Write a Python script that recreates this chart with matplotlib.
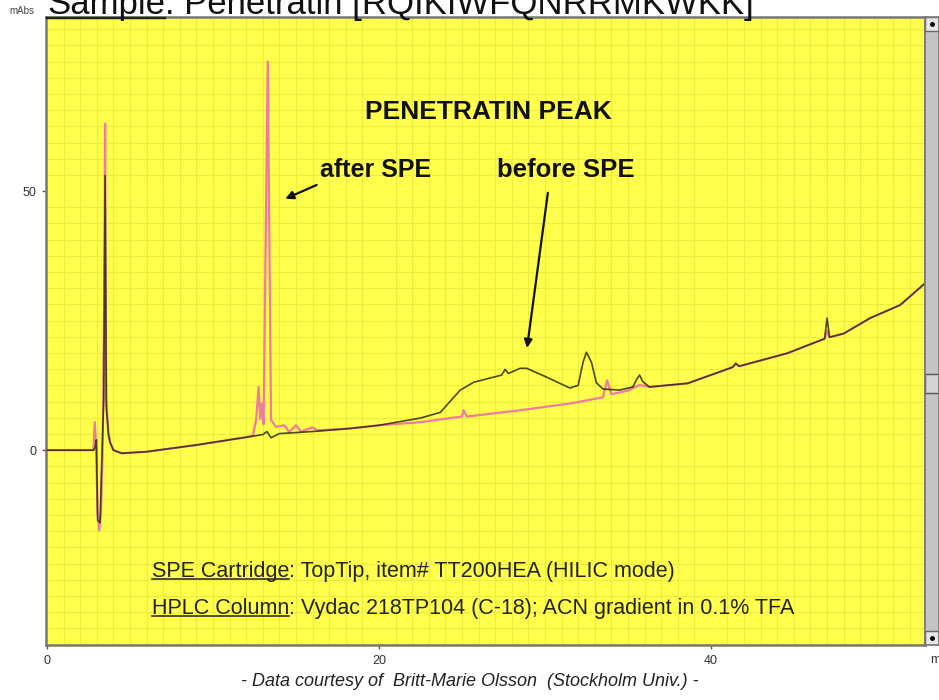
import numpy as np
import matplotlib
matplotlib.use('Agg')
import matplotlib.pyplot as plt
from matplotlib.lines import Line2D
from matplotlib.patches import Rectangle

plt.rcParams['font.family'] = ['Liberation Sans', 'DejaVu Sans']

# retention time (min) / absorbance (mAbs)
before_t = [0, 2.8, 2.9, 2.98, 3.05, 3.2, 3.3, 3.42, 3.5, 3.58, 3.7, 3.8, 4.0, 4.5,
            6, 9, 12, 13.0, 13.25, 13.5, 14, 16, 18.3, 20, 22.5, 23.7, 24.9, 25.7,
            27.4, 27.6, 27.8, 28.5, 28.9, 30.1, 31.5, 32.0, 32.3, 32.5, 32.8, 33.1,
            33.5, 34.5, 35.3, 35.5, 35.7, 35.9, 36.3, 38.6, 41.3, 41.5, 41.7, 44.6,
            46.6, 46.85, 47.0, 47.15, 48, 49.6, 51.4, 52.9]
before_y = [0, 0, 0.5, 2.0, -13.5, -14.0, -2, 10, 53, 8, 3.0, 1.5, 0, -0.6,
            -0.3, 1.0, 2.5, 3.0, 3.6, 2.4, 3.2, 3.6, 4.2, 4.8, 6.2, 7.3, 11.6, 13.1,
            14.5, 15.6, 14.8, 15.8, 15.8, 14.1, 12.0, 12.5, 17.0, 18.9, 17.0, 13.0,
            11.8, 11.6, 12.2, 13.5, 14.5, 13.2, 12.2, 12.9, 16.0, 16.8, 16.2, 18.7,
            21.2, 21.5, 25.5, 21.8, 22.5, 25.5, 28.0, 32.2]

after_t = [0, 2.8, 2.88, 2.95, 3.05, 3.15, 3.25, 3.35, 3.45, 3.5, 3.56, 3.7, 3.8, 4.0,
           4.5, 6, 9, 12, 12.4, 12.6, 12.75, 12.85, 12.95, 13.05, 13.3, 13.5, 13.8,
           14.3, 14.6, 15.0, 15.3, 16.0, 16.3, 18.3, 20, 22.5, 25.0, 25.1, 25.3, 28.5,
           31.5, 33.5, 33.75, 34.0, 35.0, 35.7, 36.3, 38.6, 41.3, 41.5, 41.7, 44.6,
           46.6, 46.85, 47.0, 47.15, 48, 49.6, 51.4, 52.9]
after_y = [0, 0, 5.4, 1.0, -12, -15.5, -12, -1, 30, 63, 10, 3.5, 1.5, 0,
           -0.6, -0.3, 1.0, 2.5, 2.8, 5.8, 12.2, 6.0, 9.0, 5.0, 75, 5.8, 4.5,
           4.8, 3.5, 4.8, 3.6, 4.4, 3.8, 4.2, 4.8, 5.4, 6.5, 7.7, 6.5, 7.7,
           9.0, 10.2, 13.5, 10.8, 11.5, 12.6, 12.2, 12.9, 16.0, 16.6, 16.2, 18.7,
           21.2, 21.5, 23.0, 21.8, 22.5, 25.5, 28.0, 32.2]

x_ticks = [0, 20, 40]
y_ticks = [0, 50]

W, H = 939, 700
fig = plt.figure(figsize=(W / 100, H / 100), dpi=100)
fig.patch.set_facecolor('white')


def fx(px):
    return px / W


def fy(py):
    return 1 - py / H


ax = fig.add_axes([fx(46), fy(645), fx(925) - fx(46), fy(17) - fy(645)])
ax.set_facecolor('#ffff4c')
ax.set_xlim(-0.06, 52.9)
ax.set_ylim(-37.6, 83.6)

ax.set_xticks(np.arange(0, 53, 1), minor=True)
ax.set_yticks(np.arange(-37.5, 84, 50 / 16), minor=True)
ax.grid(which='minor', color='#ecec40', lw=0.8)
ax.set_axisbelow(True)
ax.tick_params(which='minor', length=0)

ax.set_xticks(x_ticks)
ax.set_yticks(y_ticks)
ax.tick_params(which='major', length=3, width=1, color='#555555',
               labelsize=9, labelcolor='#333333', pad=4)
for s in ax.spines.values():
    s.set_color('#777777')
    s.set_linewidth(1.8)

ax.plot(after_t, after_y, color='#f07aa0', lw=1.6, zorder=3)
ax.plot(before_t, before_y, color='#2e2a10', lw=1.2, alpha=0.85, zorder=4)

# annotations
bold = dict(fontweight='bold', color='#111111')
ax.text(26.6, 65.3, 'PENETRATIN PEAK', ha='center', va='center', fontsize=19, **bold)
ax.text(16.45, 54.1, 'after SPE', ha='left', va='center', fontsize=18, **bold)
ax.text(27.1, 54.1, 'before SPE', ha='left', va='center', fontsize=18.5, **bold)
arrow = dict(arrowstyle='-|>', color='#111111', lw=1.6, mutation_scale=12)
ax.annotate('', xy=(14.2, 48.3), xytext=(16.4, 51.4), arrowprops=arrow)
ax.annotate('', xy=(28.9, 19.2), xytext=(30.2, 50.2), arrowprops=arrow)

# scroll bar on the right
sb = fig.add_axes([fx(925), fy(645), fx(939) - fx(925), fy(17) - fy(645)])
sb.set_facecolor('#c4c4c4')
sb.set_xticks([])
sb.set_yticks([])
for s in sb.spines.values():
    s.set_color('#777777')
    s.set_linewidth(1.2)
for y0 in [0.0, 0.977]:
    sb.add_patch(Rectangle((0, y0), 1, 0.023, transform=sb.transAxes,
                           facecolor='#e6e6e6', edgecolor='#666666', lw=1))
    sb.plot([0.5], [y0 + 0.0115], marker='o', ms=2.5, color='black',
            transform=sb.transAxes)
sb.add_patch(Rectangle((0, (645 - 393) / 628), 1, 19 / 628, transform=sb.transAxes,
                       facecolor='#d4d4d4', edgecolor='#555555', lw=1))

# axis unit labels
fig.text(fx(9), fy(14), 'mAbs', fontsize=7, color='#444444', va='baseline')
fig.text(fx(930), fy(660), 'm', fontsize=9, color='#333333', va='center')

# underlined text pieces
renderer = fig.canvas.get_renderer()
underlines = []


def underlined(x, y, head, tail, **kw):
    t1 = fig.text(x, y, head, va='baseline', **kw)
    t2 = fig.text(0, 0, tail, va='baseline', **kw)
    fig.canvas.draw()
    bb = t1.get_window_extent(renderer)
    yb = fig.transFigure.transform((0, y))[1]
    t2.set_position(fig.transFigure.inverted().transform((bb.x1, yb)))
    underlines.append((bb.x0, bb.x1, yb, kw.get('fontsize', 12)))


underlined(fx(47), fy(14), 'Sample', ': Penetratin [RQIKIWFQNRRMKWKK]',
           fontsize=25, color='#111111')
underlined(fx(152), fy(577), 'SPE Cartridge', ': TopTip, item# TT200HEA (HILIC mode)',
           fontsize=15.5, color='#222222')
underlined(fx(152), fy(614), 'HPLC Column', ': Vydac 218TP104 (C-18); ACN gradient in 0.1% TFA',
           fontsize=15.5, color='#222222')

inv = fig.transFigure.inverted()
for x0, x1, yb, fs in underlines:
    off = fs * 0.16
    (a, b), (c, d) = inv.transform([(x0, yb - off), (x1, yb - off)])
    fig.add_artist(Line2D([a, c], [b, d], transform=fig.transFigure,
                          color='#222222', lw=max(1.0, fs / 14)))

fig.text(fx(470), fy(681), '- Data courtesy of  Britt-Marie Olsson  (Stockholm Univ.) -',
         ha='center', va='center', fontsize=13, style='italic', color='#222222')

fig.savefig('out.png', dpi=100)
